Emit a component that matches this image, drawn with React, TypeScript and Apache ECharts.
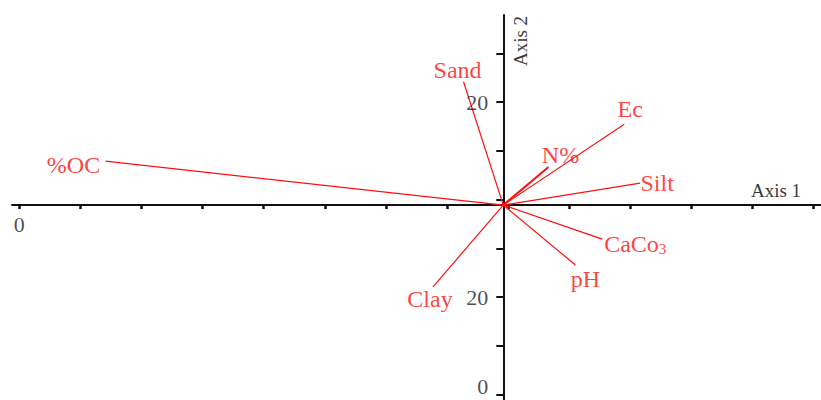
import React, { useEffect, useRef } from "react";
import * as echarts from "echarts";

// ---- data ----
const variableNames = ["%OC", "Sand", "Ec", "N%", "Silt", "CaCo3", "pH", "Clay"];
const axis1Scores = [-65.1, -6.5, 19.8, 7.4, 22.4, 16.2, 11.8, -11.5];
const axis2Scores = [9.0, 25.3, 16.6, 7.8, 4.5, -7.0, -12.3, -16.8];

const xTickValues = [-79.2, -69.2, -59.2, -49.2, -39.2, -29.2, -19.2, -9.2, 0.8, 10.8, 20.8, 30.8, 40.8, 50.8];
const yTickValues = [31.1, 21.1, 11.1, 1.1, -8.9, -18.9, -28.9, -38.9];
const xTickLabelValues = [-79.2];
const xTickLabelTexts = ["0"];
const yTickLabelValues = [21.1, -18.9, -38.9];
const yTickLabelTexts = ["20", "20", "0"];
const axisTitles = ["Axis 1", "Axis 2"];

// ---- layout / style ----
const RED = "#ff0f0f";
const SERIF = "'Liberation Serif', 'DejaVu Serif', serif";
const labelOffsets: Record<string, [number, number]> = {
  "%OC": [-32, 4],
  Sand: [-6, -12],
  Ec: [6, -15],
  "N%": [12, -12],
  Silt: [17, 0],
  CaCo3: [33, 5],
  pH: [10, 14],
  Clay: [-3, 12],
};
// vertical nudge of the y tick labels (keeps the bottom one inside the page)
const yTickLabelNudge = [0, 0, -8];

export default function App() {
  const ref = useRef<HTMLDivElement>(null);
  useEffect(() => {
    if (!ref.current) return;
    const chart = echarts.init(ref.current, undefined, { renderer: "svg" });

    const lineSeries = variableNames.map((n, i) => ({
      type: "line" as const,
      name: n,
      data: [
        [0, 0],
        [axis1Scores[i], axis2Scores[i]],
      ],
      showSymbol: false,
      silent: true,
      lineStyle: { color: RED, width: n === "N%" ? 2 : 1.2 },
      z: 3,
    }));

    const labelSeries = {
      type: "scatter" as const,
      symbolSize: 0,
      silent: true,
      z: 4,
      data: variableNames.map((n, i) => ({
        name: n,
        value: [axis1Scores[i], axis2Scores[i]],
        label: { offset: labelOffsets[n] },
      })),
      label: {
        show: true,
        position: "inside",
        align: "center",
        verticalAlign: "middle",
        color: RED,
        fontFamily: SERIF,
        fontSize: 24,
        lineHeight: 24,
        formatter: (p: any) => (p.name === "CaCo3" ? "CaCo{sub|3}" : p.name),
        rich: {
          sub: {
            color: RED,
            fontFamily: SERIF,
            fontSize: 15,
            lineHeight: 12,
            verticalAlign: "bottom",
          },
        },
      },
    };

    const tickLabelStyle = {
      show: true,
      color: "#1b1b2f",
      fontFamily: SERIF,
      fontSize: 22,
      lineHeight: 18,
    };

    const xTickLabelSeries = {
      type: "scatter" as const,
      symbolSize: 0,
      silent: true,
      z: 4,
      data: xTickLabelValues.map((v, i) => ({ name: xTickLabelTexts[i], value: [v, 0] })),
      label: { ...tickLabelStyle, position: "bottom", distance: 10, formatter: (p: any) => p.name },
    };

    const yTickLabelSeries = {
      type: "scatter" as const,
      symbolSize: 0,
      silent: true,
      z: 4,
      data: yTickLabelValues.map((v, i) => ({
        name: yTickLabelTexts[i],
        value: [0, v],
        label: { offset: [0, yTickLabelNudge[i]] },
      })),
      label: { ...tickLabelStyle, position: "left", distance: 15, formatter: (p: any) => p.name },
    };

    chart.setOption({
      animation: false,
      backgroundColor: "#ffffff",
      grid: {
        left: 12,
        width: 809,
        top: 15,
        height: 385,
        containLabel: false,
        outerBoundsMode: "none",
      },
      xAxis: {
        type: "value",
        min: -80.4,
        max: 52.0,
        splitLine: { show: false },
        axisLine: { show: true, onZero: true, lineStyle: { color: "#111", width: 2 } },
        axisTick: {
          show: true,
          customValues: xTickValues,
          length: 4,
          lineStyle: { color: "#111", width: 2.5 },
        },
        axisLabel: { show: false },
      },
      yAxis: {
        type: "value",
        min: -40.0,
        max: 39.0,
        splitLine: { show: false },
        axisLine: { show: true, onZero: true, lineStyle: { color: "#111", width: 2 } },
        axisTick: {
          show: true,
          customValues: yTickValues,
          length: 7,
          lineStyle: { color: "#111", width: 2 },
        },
        axisLabel: { show: false },
      },
      graphic: [
        {
          type: "text",
          x: 776,
          y: 190,
          silent: true,
          style: {
            text: axisTitles[0],
            fill: "#3a3a3a",
            font: `19px ${SERIF}`,
            align: "center",
            verticalAlign: "middle",
          },
        },
        {
          type: "text",
          x: 520,
          y: 41,
          rotation: Math.PI / 2,
          silent: true,
          style: {
            text: axisTitles[1],
            fill: "#3a3a3a",
            font: `19px ${SERIF}`,
            align: "center",
            verticalAlign: "middle",
          },
        },
      ],
      series: [...lineSeries, labelSeries, xTickLabelSeries, yTickLabelSeries],
    });

    return () => chart.dispose();
  }, []);

  return (
    <div
      ref={ref}
      style={{ position: "fixed", left: 0, top: 0, width: 821, height: 400, background: "#fff" }}
    />
  );
}
